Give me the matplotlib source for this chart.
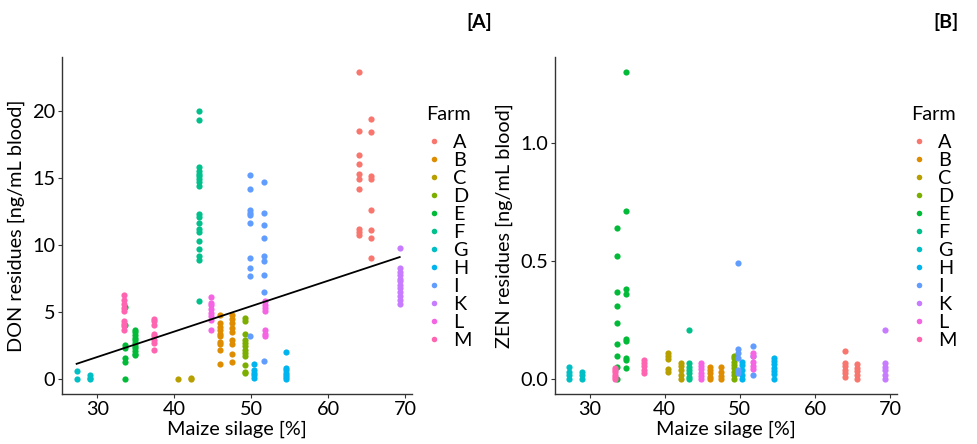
import numpy as np
import matplotlib
matplotlib.use("Agg")
import matplotlib.pyplot as plt
from matplotlib.lines import Line2D

plt.rcParams['font.family'] = ['Lato', 'DejaVu Sans']

farms = ["A", "B", "C", "D", "E", "F", "G", "H", "I", "K", "L", "M"]
farm_colors = ["#F8766D", "#DE8C00", "#B79F00", "#7CAE00", "#00BA38", "#00C08B",
               "#00BFC4", "#00B4F0", "#619CFF", "#C77CFF", "#F564E3", "#FF64B0"]

# DON residues: (maize silage %, [values]) per farm
don_A = [(64.0, [22.9, 18.5, 16.7, 16.0, 15.3, 14.9, 14.2, 11.2, 11.0, 10.75]),
         (65.6, [19.4, 18.4, 15.1, 14.9, 12.6, 11.1, 10.5, 9.05])]
don_B = [(46.0, [4.8, 4.2, 3.9, 3.7, 3.4, 3.2, 2.8, 2.6, 2.2, 1.15]),
         (47.5, [4.8, 4.5, 4.2, 3.85, 3.55, 2.9, 2.6, 1.9, 1.25])]
don_C = [(40.5, [0.0]),
         (42.2, [0.08, 0.0])]
don_D = [(49.2, [4.55, 4.3, 3.4, 2.9, 2.7, 2.45, 2.2, 1.95, 1.7, 1.05, 0.57, 0.45])]
don_E = [(33.6, [5.35, 4.05, 2.56, 2.36, 1.57, 1.32, 0.0]),
         (34.9, [3.7, 3.5, 3.3, 3.1, 2.9, 2.7, 2.5, 2.3, 2.1, 1.9, 1.8])]
don_F = [(43.2, [20.0, 19.3, 15.8, 15.5, 15.3, 15.1, 14.9, 14.7, 14.4, 12.3, 12.1,
                 11.6, 11.2, 11.0, 10.3, 9.7, 9.2, 8.9, 5.8])]
don_G = [(27.3, [0.62, 0.0]),
         (29.0, [0.3, 0.1, 0.0])]
don_H = [(50.3, [1.15, 0.7, 0.5, 0.3, 0.07]),
         (54.5, [2.05, 0.87, 0.7, 0.5, 0.3, 0.15, 0.0])]
don_I = [(49.8, [15.2, 14.2, 12.6, 12.4, 12.2, 11.6, 9.0, 8.3, 7.7, 3.2]),
         (51.7, [14.7, 12.4, 11.5, 10.5, 9.2, 8.8, 7.8, 6.5, 1.37])]
don_K = [(69.3, [9.8, 8.3, 8.0, 7.8, 7.5, 7.3, 7.0, 6.8, 6.5, 6.2, 5.9, 5.6])]
don_L = [(44.8, [6.1, 5.7, 5.5, 5.2, 4.9, 4.7, 4.4, 3.7]),
         (51.8, [5.8, 5.55, 5.3, 5.05, 3.7, 3.4, 3.2])]
don_M = [(33.4, [6.3, 5.9, 5.6, 5.3, 5.05, 4.3, 4.1, 4.0, 3.7]),
         (37.3, [4.5, 4.3, 4.05, 3.4, 3.2, 2.9, 2.7, 2.2])]

# ZEN residues
zen_A = [(64.0, [0.12, 0.07, 0.055, 0.04, 0.025, 0.01]),
         (65.6, [0.063, 0.05, 0.035, 0.018, 0.0])]
zen_B = [(46.0, [0.054, 0.04, 0.025, 0.01, 0.0]),
         (47.5, [0.054, 0.033, 0.014, 0.0])]
zen_C = [(40.5, [0.11, 0.1, 0.085, 0.045, 0.03]),
         (42.2, [0.07, 0.055, 0.04, 0.02, 0.0])]
zen_D = [(49.2, [0.1, 0.09, 0.075, 0.06, 0.047, 0.033, 0.018, 0.0])]
zen_E = [(33.6, [0.64, 0.52, 0.37, 0.31, 0.24, 0.15, 0.1, 0.054, 0.0]),
         (34.9, [1.3, 0.71, 0.38, 0.36, 0.17, 0.16, 0.09, 0.08, 0.05])]
zen_F = [(43.2, [0.21, 0.07, 0.054, 0.04, 0.025, 0.01, 0.0])]
zen_G = [(27.3, [0.054, 0.03, 0.018, 0.0]),
         (29.0, [0.03, 0.018, 0.0])]
zen_H = [(50.3, [0.075, 0.06, 0.04, 0.018, 0.0]),
         (54.5, [0.09, 0.079, 0.065, 0.05, 0.037, 0.022, 0.0])]
zen_I = [(49.8, [0.49, 0.13, 0.11, 0.09, 0.04, 0.025]),
         (51.7, [0.14, 0.1, 0.02])]
zen_K = [(69.3, [0.21, 0.07, 0.054, 0.04, 0.018, 0.0])]
zen_L = [(44.8, [0.07, 0.056, 0.042, 0.028, 0.014, 0.0]),
         (51.8, [0.11, 0.1, 0.075, 0.055, 0.045])]
zen_M = [(33.4, [0.05, 0.04, 0.03, 0.02, 0.01, 0.0]),
         (37.3, [0.08, 0.07, 0.055, 0.04, 0.025])]

don_data = [don_A, don_B, don_C, don_D, don_E, don_F, don_G, don_H, don_I, don_K, don_L, don_M]
zen_data = [zen_A, zen_B, zen_C, zen_D, zen_E, zen_F, zen_G, zen_H, zen_I, zen_K, zen_L, zen_M]

# trend line for DON
trend_intercept = -4.02
trend_slope = 0.1893
trend_range = [27.3, 69.3]

xlabel = "Maize silage [%]"
don_label = "DON residues [ng/mL blood]"
zen_label = "ZEN residues [ng/mL blood]"
legend_title = "Farm"
panel_tags = ["[A]", "[B]"]
x_ticks = [30, 40, 50, 60, 70]
don_ticks = [0, 5, 10, 15, 20]
zen_ticks = [0.0, 0.5, 1.0]

W, H = 978, 444
fig = plt.figure(figsize=(W / 100, H / 100), dpi=100)

def frac(x0, y0, x1, y1):
    return [x0 / W, 1 - y1 / H, (x1 - x0) / W, (y1 - y0) / H]

axA = fig.add_axes(frac(62, 57, 412, 394))
axB = fig.add_axes(frac(555, 57, 897, 394))

spine_col = "#333333"
FS = 14.3

def draw(ax, data, ylabel, yticks, ylim, fmt):
    for farm, col, groups in zip(farms, farm_colors, data):
        for xv, vals in groups:
            ax.scatter(np.full(len(vals), xv), vals, s=20, color=col, linewidths=0,
                       zorder=3)
    ax.set_xlim(25.4, 70.9)
    ax.set_ylim(*ylim)
    ax.set_xticks(x_ticks)
    ax.set_yticks(yticks)
    ax.set_yticklabels([fmt.format(t) for t in yticks])
    for s in ["top", "right"]:
        ax.spines[s].set_visible(False)
    for s in ["left", "bottom"]:
        ax.spines[s].set_color(spine_col)
        ax.spines[s].set_linewidth(1.0)
    ax.tick_params(length=3, width=0.8, color=spine_col, labelsize=FS, pad=2)
    ax.set_xlabel(xlabel, fontsize=FS, labelpad=2)
    ax.set_ylabel(ylabel, fontsize=FS, labelpad=5)

draw(axA, don_data, don_label, don_ticks, (-1.1, 24.0), "{:d}")
draw(axB, zen_data, zen_label, zen_ticks, (-0.062, 1.363), "{:.1f}")

xl = np.array(trend_range)
axA.plot(xl, trend_intercept + trend_slope * xl, color="black", lw=1.3, zorder=4)

handles = [Line2D([0], [0], marker="o", ls="", color=c, markersize=4, markeredgewidth=0)
           for c in farm_colors]

def add_legend(ax, x_title, x_marker):
    fig.text(x_title / W, 1 - 115 / H, legend_title, fontsize=FS, ha="left", va="center")
    ax.legend(handles, farms, loc="upper left",
              bbox_to_anchor=((x_marker - 3) / W, 1 - 134 / H), bbox_transform=fig.transFigure,
              frameon=False, fontsize=FS, handlelength=0.5,
              handletextpad=0.7, labelspacing=0.05, borderpad=0, borderaxespad=0)

add_legend(axA, 426, 432)
add_legend(axB, 911, 917)

fig.text(479 / W, 1 - 22 / H, panel_tags[0], fontsize=14, fontweight="bold", ha="center", va="center")
fig.text(946 / W, 1 - 22 / H, panel_tags[1], fontsize=14, fontweight="bold", ha="center", va="center")

fig.savefig("out.png", dpi=100)
